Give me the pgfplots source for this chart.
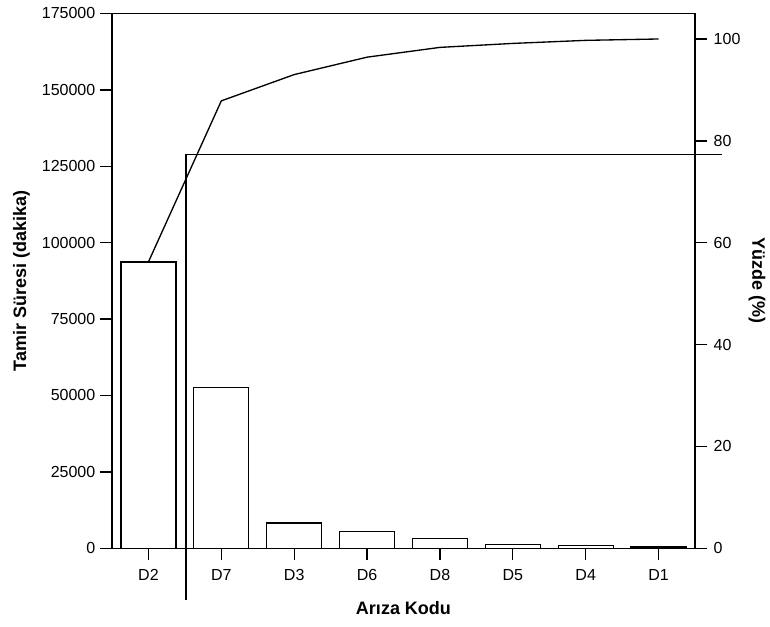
\documentclass[border=0pt]{standalone}
\usepackage{fontspec}
\setmainfont{Liberation Sans}
\usepackage{pgfplots}
\pgfplotsset{compat=1.18}
\begin{document}
\begin{tikzpicture}
\pgfplotsset{
  common/.style={
    scale only axis,
    width=437.25pt, height=401.1pt,
    xmin=-0.5, xmax=7.5,
    tick align=outside,
    major tick length=9pt,
    every tick/.style={black, line width=1pt},
    axis line style={black, line width=1pt},
    tick label style={font=\fontsize{12}{14}\selectfont},
    label style={font=\fontsize{13.5}{16}\selectfont\bfseries},
    /pgf/number format/fixed,
    /pgf/number format/precision=0,
    /pgf/number format/assume math mode=true,
    /pgf/number format/1000 sep={},
    scaled y ticks=false,
  }
}
\begin{axis}[common,
  name=main,
  ymin=0, ymax=175000,
  ytick={0,25000,50000,75000,100000,125000,150000,175000},
  ytick pos=left,
  xtick={0,...,7},
  xticklabels={D2,D7,D3,D6,D8,D5,D4,D1},
  xtick pos=bottom,
  xticklabel style={yshift=-3.5pt},
  clip=false,
  ylabel={Tamir Süresi (dakika)},
  xlabel={Arıza Kodu},
  ylabel style={at={(axis description cs:-0.1552,0.5)}, anchor=center},
  xlabel style={at={(axis description cs:0.5,0)}, anchor=center, yshift=-44.8pt},
]
\addplot[ybar, bar width=0.755, fill=white, draw=black, line width=1pt]
  coordinates {(0,93700)(1,52700)(2,8300)(3,5500)(4,3200)(5,1300)(6,900)(7,400)};
\addplot[black, line width=1pt, sharp plot, mark=none]
  coordinates {(0,93700)(1,146400)(2,155000)(3,160700)(4,163900)(5,165200)(6,166200)(7,166650)};
\addplot[black, line width=1pt, sharp plot, mark=none]
  coordinates {(0.514,-16900)(0.514,128900)(7.87,128900)};
\coordinate (bl) at (rel axis cs:0,0);
\coordinate (tr) at (rel axis cs:1,1);
\end{axis}
\begin{axis}[common,
  ymin=0, ymax=105.01,
  ytick={0,20,40,60,80,100},
  axis y line*=right,
  axis x line=none,
  yticklabel style={xshift=1.5pt},
  ylabel={Yüzde (\%)},
  ylabel style={at={(axis description cs:1.1063,0.5)}, anchor=center, rotate=180},
]
\addplot[draw=none, forget plot] coordinates {(0,0)};
\end{axis}
\pgfresetboundingbox
\path[use as bounding box] ([shift={(-84pt,-58.3pt)}]bl) rectangle ([shift={(56.25pt,10.1pt)}]tr);
\end{tikzpicture}
\end{document}
